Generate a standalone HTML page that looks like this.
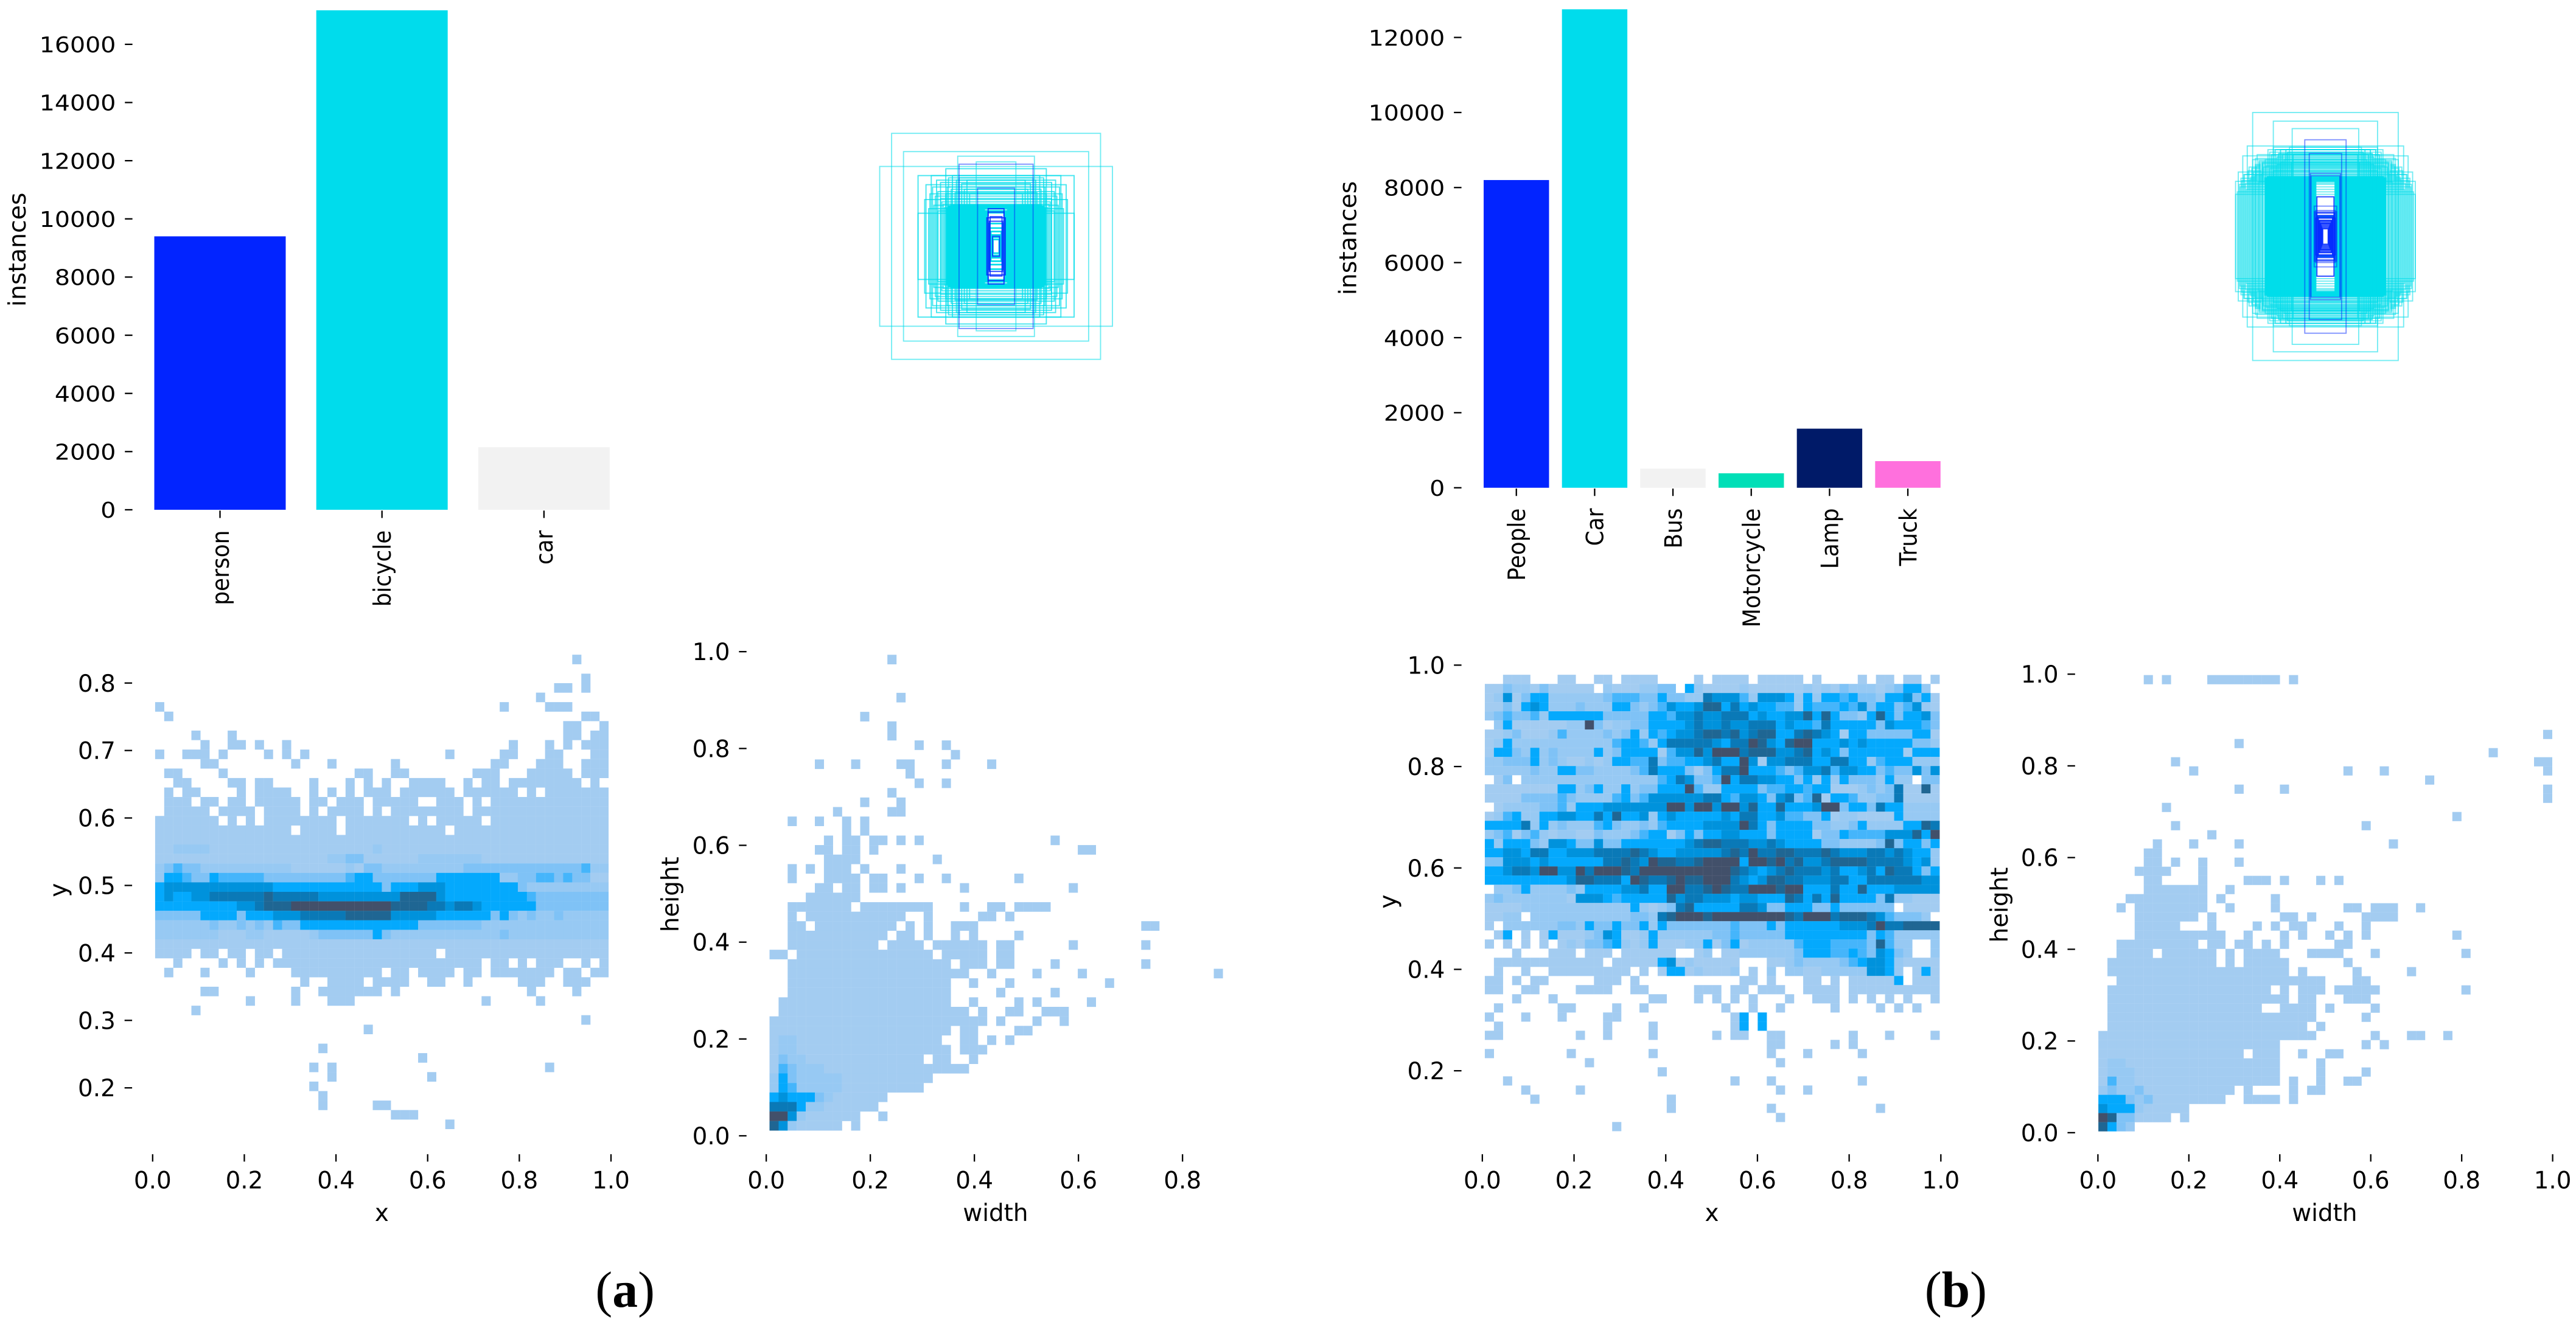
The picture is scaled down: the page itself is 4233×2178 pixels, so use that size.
<!DOCTYPE html>
<html lang="en">
<head>
<meta charset="utf-8">
<title>Dataset label statistics (a) and (b)</title>
<style>
html,body{margin:0;padding:0;background:#fff;}
svg{display:block;}
text{font-family:"DejaVu Sans","Liberation Sans",sans-serif;fill:#000;}
.cap{font-family:"Liberation Serif",serif;font-size:31px;}
</style>
</head>
<body>
<svg id="chart" xmlns="http://www.w3.org/2000/svg" width="4233" height="2178" viewBox="0 0 1568 806.8">
<rect x="0" y="0" width="1568" height="806.8" fill="#fff"></rect>
<text class="cap" x="380.5" y="795.7" text-anchor="middle">(<tspan font-weight="bold">a</tspan>)</text>
<text class="cap" x="1190.5" y="795.7" text-anchor="middle">(<tspan font-weight="bold">b</tspan>)</text>
</svg>
<script>
// ---------- bar chart data ----------
const classesA = ['person','bicycle','car'];
const instancesA = [9400,17170,2150];
const classesB = ['People','Car','Bus','Motorcycle','Lamp','Truck'];
const instancesB = [8200,12750,510,385,1575,710];
const barColors = ['#0224FF','#00DCEC','#F2F2F2','#00DFB7','#001A68','#FF70DD'];
const barTicksA = [0,2000,4000,6000,8000,10000,12000,14000,16000];
const barTicksB = [0,2000,4000,6000,8000,10000,12000];

// ---------- box-size overlay data (fraction of image) ----------
const boxCyanWidthsA = [.79,.70,.29,.88,.15,.38,.59,.49,.53,.44,.54,.59,.40,.45,.42,.36,.33,.30,.48,.50,.46,.42,.38,.37,.34,.31,.28,.26,.24,.22,.20,.51,.47,.44,.41,.39,
.37,.36,.35,.34,.33,.32,.31,.30,.29,.28,.27,.26,.25,.24,.23,.22,.21,.20,.19,.18,.17,.16,.15,.14,.13,.12,.11,.10,.09,.08,.07,.055,.05,.04,.035,.03,.024];
const boxCyanHeightsA = [.99,.83,.79,.70,.74,.68,.62,.62,.54,.48,.41,.29,.37,.58,.56,.60,.62,.58,.52,.46,.44,.42,.46,.52,.50,.47,.60,.55,.50,.58,.46,.33,.36,.31,.39,.34,
.33,.35,.34,.36,.33,.35,.34,.36,.35,.33,.36,.34,.35,.33,.36,.34,.35,.36,.33,.35,.34,.36,.35,.33,.34,.36,.35,.34,.33,.31,.30,.20,.16,.13,.10,.08,.06];
const boxBlueWidthsA = [.28,.14,.06,.07,.05,.026,.045,.06];
const boxBlueHeightsA = [.72,.51,.33,.25,.22,.088,.26,.30];
const boxCoreStartA = 36;
const boxCyanWidthsB = [.81,.58,.37,.87,.92,.97,1,1,.81,.67,.90,.85,.83,.78,.74,.72,.70,.94,.96,.88,.76,.80,.93,.91,.89,.86,.84,.82,.79,.77,.75,.73,.71,.69,.95,.98,
.64,.62,.60,.58,.56,.54,.52,.50,.48,.46,.44,.42,.40,.38,.36,.78,.74,.70,.66,.62,.58,.54,.50,
.67,.656,.642,.628,.614,.60,.586,.572,.558,.544,.53,.516,.502,.488,.474,.46,.446,.432,.418,.404,.39,.376,.362,.348,.334,.32,.306,.292,.278,.264,.25,.236,.222,.208,.194,.18,.166,.152,.138,.124,.11,.33];
const boxCyanHeightsB = [1,.93,.87,.73,.65,.52,.445,.34,.62,.62,.50,.56,.48,.58,.60,.54,.60,.47,.42,.38,.66,.52,.45,.50,.43,.53,.46,.55,.49,.57,.44,.59,.51,.56,.40,.36,
.70,.68,.66,.72,.70,.64,.67,.70,.66,.62,.70,.68,.72,.60,.66,.63,.61,.59,.57,.55,.53,.58,.60,
.47,.46,.48,.47,.45,.48,.47,.46,.48,.47,.45,.48,.46,.47,.48,.45,.47,.46,.48,.47,.45,.46,.48,.47,.46,.47,.48,.45,.47,.46,.48,.47,.45,.46,.47,.48,.46,.47,.45,.48,.46,.16];
const boxBlueWidthsB = [.23,.18,.167,.16,.125,.125,.115,.11,.11,.105,.10,.095,.09,.08,.08,.075,.07,.065,.06,.055,.05,.045,.04,.035,.03];
const boxBlueHeightsB = [.78,.67,.51,.49,.245,.20,.19,.21,.147,.15,.19,.32,.17,.16,.15,.13,.12,.13,.105,.11,.10,.09,.08,.07,.062];
const boxCoreStartB = 59;

// ---------- heatmap tick labels ----------
const ticksXYAx = [0,.2,.4,.6,.8,1];
const ticksXYAy = [.2,.3,.4,.5,.6,.7,.8];
const ticksWHAx = [0,.2,.4,.6,.8];
const ticksWHAy = [0,.2,.4,.6,.8,1];
const ticksXYBx = [0,.2,.4,.6,.8,1];
const ticksXYBy = [.2,.4,.6,.8,1];
const ticksWHBx = [0,.2,.4,.6,.8,1];
const ticksWHBy = [0,.2,.4,.6,.8,1];
const toneColors = ['#fff','#a3ccf1','#97c9f3','#7fc2f6','#45b5fb','#04a9fd','#0092dc','#0a79b7','#1f6693','#42506a'];

// ---------- heatmap counts: bins are 50x50, levels 1..9 ----------
// runs: [row, from, to, from, to, ...] at level 1.  tones: [row, startCol, level, level, ...]
const xyRunsA = [[0,46,46],[2,47,47],[3,44,45,47,47],[4,42,42],[5,0,0,38,38,43,45],[6,1,1,47,48],[7,45,46,49,49],[8,4,4,8,8,45,46,48,49],
[9,5,5,8,9,11,11,14,14,39,39,43,43,45,45,47,49],[10,0,0,3,5,7,7,12,12,14,14,16,16,32,32,38,39,43,44,48,49],
[11,5,6,15,15,19,19,26,26,37,38,42,44,47,49],[12,1,2,7,7,22,23,26,27,35,37,41,45,47,49],
[13,2,3,8,9,11,12,17,17,21,21,23,23,25,25,28,31,34,34,36,37,39,46,48,48],
[14,1,1,3,4,9,9,11,14,17,17,19,19,21,21,23,25,27,32,34,39,41,41,43,49],
[15,1,3,5,6,8,9,11,15,17,18,20,22,24,28,31,33,35,35,37,49],
[16,1,5,7,10,12,15,17,17,19,22,24,24,26,33,35,49],
[17,0,6,8,8,10,10,12,19,21,27,29,29,31,35,37,49],
[18,0,14,16,19,21,31,33,49],[19,0,49],[30,0,49],
[31,0,3,5,6,8,9,11,12,14,30,32,49],
[32,2,2,7,7,9,9,11,11,13,35,37,38,40,40,42,44,47,47,49,49],
[33,1,1,5,5,10,10,15,24,26,27,29,32,34,35,37,43,45,46,48,49],
[34,16,16,19,22,24,27,30,31,34,34,40,42,45,47],
[35,5,6,15,15,18,24,26,26,41,41,46,46],
[36,10,10,15,15,19,21,36,36,42,42],
[37,4,4],[38,47,47],[39,23,23],[41,18,18],[42,29,29],[43,17,17,19,19,43,43],[44,19,19,30,30],[45,17,17],[46,18,18],[47,18,18,24,25],[48,26,28],[49,32,32]];
const xyTonesA = [
[20,0,1,1,2,2,2,2,1,1,1,1,1,1,1,1,1,1,1,1,1,1,1,1,1,1,2,1,1,1,1,1,1,1,1,1,1,1,1,1,1,1,1,1,1,1,1,1,1,1,1,1],
[21,0,1,1,1,1,1,1,1,1,1,1,1,1,1,1,1,1,1,1,1,2,2,3,3,1,1,1,1,1,1,2,2,2,2,2,2,2,1,1,1,1,1,1,1,1,1,1,1,1,1,1],
[22,0,2,3,4,3,3,2,2,2,2,2,2,2,2,2,2,1,1,1,1,1,1,2,1,3,3,2,2,2,2,2,2,2,2,2,3,3,3,3,3,3,3,3,3,3,3,3,3,4,2,2],
[23,0,2,5,5,4,3,3,5,4,4,4,4,4,3,3,3,3,3,3,3,3,3,4,5,5,3,3,3,3,3,3,3,5,5,5,5,5,5,5,2,2,3,3,4,4,3,4,3,3,1,1],
[24,0,5,6,6,6,6,6,6,6,6,6,6,6,6,5,5,5,5,5,5,5,5,5,5,5,5,3,5,5,5,6,6,6,5,5,5,5,5,5,5,5,3,2,2,2,2,2,2,2,2,2],
[25,0,5,6,5,5,6,6,7,7,7,7,7,7,8,7,7,7,7,7,6,6,6,6,6,6,6,6,6,8,8,8,8,6,5,5,5,5,5,5,5,5,5,4,3,3,3,3,3,3,3,3],
[26,0,5,5,5,5,5,5,5,5,5,6,6,7,8,8,8,9,9,9,9,9,9,9,9,9,9,9,8,8,8,8,7,7,6,7,7,6,5,5,5,5,5,5,3,3,3,3,3,3,3,3],
[27,0,3,3,3,3,3,5,5,5,5,3,5,5,5,6,6,6,7,7,7,7,7,8,8,8,8,8,6,6,6,6,6,5,5,5,5,5,5,3,5,3,2,3,2,2,3,2,2,2,2,2],
[28,0,2,2,2,2,2,2,3,2,2,3,2,3,2,4,3,3,5,5,5,5,5,5,5,5,5,5,5,5,5,3,3,3,3,3,3,3,2,2,2,2,2,2,2,2,2,2,2,2,2,2],
[29,0,2,2,2,2,2,2,2,1,1,1,2,2,1,1,1,1,1,2,3,3,3,3,3,3,5,3,2,2,2,2,2,2,2,2,2,2,2,2,3,2,2,2,2,2,2,2,2,2,2,2]];

const whRunsA = [[0,13,13],[4,14,14],[6,10,10],[7,13,13],[8,13,13],[9,16,16,19,19],[10,20,20],[11,5,5,9,9,14,15,19,19,24,24],[12,15,15],[13,16,16,19,19],[14,13,13],[15,10,10,14,14],[16,7,7,13,14],[17,2,2,5,5,8,8,10,10],[18,8,8,10,10],
[19,6,6,8,9,11,12,14,14,16,16,31,31],[20,5,6,8,9,11,11,34,35],[21,6,9,18,18],[22,2,2,4,4,6,8,10,10,14,14],[23,2,2,6,9,11,12,16,16,19,19,27,27],[24,5,6,8,9,11,12,14,14,21,21,33,33],[25,4,9],
[26,2,8,10,17,21,21,24,25,27,30],[27,2,2,4,14,17,17,23,24,26,26],[28,2,3,5,13,15,15,17,17,20,22,41,42],[29,2,12,14,15,17,17,20,20,22,22,27,27],[30,2,11,13,16,18,23,25,26,33,33,41,41],
[31,0,1,3,17,19,23,25,26],[32,2,19,21,23,25,26,31,31,41,41],[33,2,21,24,24,29,29,34,34,49,49],[34,2,19,22,22,26,26,37,37],[35,2,19,25,25,31,31],[36,1,19,22,22,27,27,29,29,35,35],
[37,1,21,23,23,26,27,30,32],[38,0,23,25,25,29,29,32,32],[39,0,19,21,22,27,28],[40,0,18,21,22,24,24,26,26],[41,0,19,21,23],[42,0,16,18,19,22,22],[43,0,21],[44,0,17],[45,0,16],[46,0,12],[47,0,11],[48,0,9,12,12],[49,0,7,9,9]];
const whTonesA = [[49,0,8,6,2],[48,0,9,9,6,2],[47,0,7,7,7,5,2,2],[46,0,5,6,5,5,5,3,2],[45,0,2,5,4,2,2,2,2,2],[44,0,2,5,3,2,2,2,2,2],[43,0,1,4,3,2,2,2],[42,0,1,3,2,2,1],[41,0,1,2,2,1],[40,1,2,2]];

const xyRunsB = [[0,2,4,8,9,12,13,15,18,23,23,25,28,30,34,36,36,41,41,43,44,46,47,49,49],
[33,0,1,3,3,5,6,12,14,16,16,28,29,31,31,35,36,38,38,40,45,47,49],
[34,0,1,4,5,10,13,16,17,23,25,27,28,30,32,35,38,40,49],
[35,3,3,7,7,18,19,23,23,25,25,27,27,29,29,33,33,36,38,40,40,42,42,44,44,46,46,49,49],
[36,1,1,8,9,14,14,17,17,26,26,29,29,32,32,38,38,43,43,45,45,47,47],
[37,0,0,4,4,8,8,13,14,27,28,30,30],[38,1,1,13,13,18,18,27,28,30,30],
[39,0,1,10,10,13,13,18,18,25,25,27,28,31,32,40,40,44,44,49,49],[40,31,32,38,38,40,40],
[41,0,0,9,9,18,18,31,31,35,35,41,41],[42,11,11,32,32],[43,19,19],[44,2,2,27,27,31,31,41,41],[45,4,4,10,10,32,32,35,35],[46,5,5,20,20],[47,20,20,31,31,43,43],[48,32,32],[49,14,14]];
const xyTonesB = [
[1,0,1,1,3,2,2,1,3,1,1,1,1,1,0,2,1,1,1,2,2,3,3,0,5,2,1,1,1,1,2,1,1,1,1,1,1,2,1,2,1,3,2,2,2,1,2,3,5,5,2,0],
[2,0,1,2,6,1,3,5,5,2,2,2,2,2,2,3,4,4,4,3,3,5,3,3,2,2,7,6,6,6,4,2,6,6,6,5,2,5,2,5,5,4,5,3,3,2,5,5,6,3,5,1],
[3,0,1,1,3,1,5,6,5,2,2,2,3,2,2,2,5,5,3,2,3,4,6,5,5,6,8,8,5,7,5,6,5,5,4,4,2,5,4,4,4,5,4,6,3,5,5,3,4,6,2,1],
[4,0,2,3,4,3,3,4,2,5,5,5,5,5,5,3,3,3,3,3,5,5,4,6,6,7,6,6,7,7,7,5,6,5,5,6,6,8,5,8,5,3,3,2,5,8,5,3,5,5,6,3],
[5,0,0,2,5,1,1,1,1,1,1,2,2,9,3,1,2,2,3,3,5,5,5,5,6,7,6,6,7,6,6,7,7,7,5,6,5,5,4,7,5,5,5,5,5,3,6,5,5,5,4,3],
[6,0,1,1,2,3,1,1,1,2,4,2,2,2,2,3,2,3,5,2,5,4,5,6,6,7,8,8,7,8,6,7,8,8,5,5,7,8,7,6,5,1,5,5,3,3,3,3,3,5,5,1],
[7,0,1,2,5,2,2,2,2,2,2,2,2,2,2,2,4,5,5,4,2,5,7,7,7,7,7,6,5,7,7,9,8,6,5,8,9,9,5,5,5,6,5,6,5,5,5,5,5,3,3,2],
[8,0,1,5,5,3,2,5,2,3,2,2,2,2,5,2,3,5,5,5,5,1,4,6,6,8,6,9,9,9,7,8,8,8,6,6,7,8,5,6,5,3,5,5,5,5,5,5,1,5,5,5],
[9,0,2,2,3,3,3,5,2,3,2,1,1,2,1,2,5,5,4,4,7,3,4,4,5,5,6,7,5,5,9,6,1,6,6,7,7,7,5,5,7,7,5,5,2,4,5,5,5,2,2,2],
[10,0,2,2,2,2,2,3,2,2,5,5,3,3,2,2,2,2,3,4,7,5,5,5,3,1,3,5,7,7,9,5,5,5,4,3,4,6,6,7,4,6,6,5,5,3,4,3,3,6,3,6],
[11,0,0,1,3,0,2,2,2,2,2,2,2,2,2,2,2,2,2,2,2,4,5,7,6,3,3,4,9,5,7,7,6,6,5,5,3,5,2,5,2,5,3,3,3,2,5,2,2,0,3,3],
[12,0,1,1,1,1,1,1,1,1,5,5,2,3,5,2,2,5,2,3,3,5,5,5,9,4,2,2,5,5,5,5,3,4,4,5,5,4,5,5,1,1,1,2,3,2,3,7,1,1,8,1],
[13,0,1,1,1,1,3,3,3,3,4,3,2,2,2,2,4,5,3,4,6,6,6,6,6,6,7,7,5,4,6,6,5,3,6,7,3,4,8,1,5,5,4,2,2,3,3,7,1,1,1,1],
[14,0,0,1,2,2,2,2,3,3,4,2,5,5,5,6,6,6,6,6,6,6,9,9,6,9,9,6,9,9,6,8,5,5,8,5,5,5,6,9,9,3,5,5,3,7,5,5,2,2,2,2],
[15,0,1,2,4,5,2,2,5,5,6,6,5,5,7,5,8,5,5,6,2,5,6,5,5,5,5,5,6,5,7,7,5,5,6,4,4,3,3,5,1,2,2,1,1,1,1,5,2,2,2,2],
[16,0,5,5,5,5,7,2,5,2,3,2,2,2,4,5,3,2,2,3,2,4,5,5,5,5,6,6,6,6,9,7,5,3,5,5,5,5,3,3,2,2,3,5,2,2,2,2,5,5,8,7],
[17,0,2,3,4,1,3,4,2,1,2,2,1,1,3,2,2,2,3,4,5,5,1,3,5,3,5,5,6,6,5,5,5,3,5,5,5,5,1,3,3,5,4,4,4,4,6,6,6,8,5,9],
[18,0,5,2,5,5,5,3,2,6,6,5,3,3,6,3,3,5,5,5,5,5,5,5,6,7,8,8,7,7,7,6,6,7,6,5,5,5,5,3,3,2,2,2,2,3,8,3,5,5,3,5],
[19,0,5,5,6,6,5,7,7,5,5,6,6,6,7,7,7,7,8,7,6,5,5,6,6,6,6,6,7,8,7,9,7,7,8,8,7,7,7,8,7,6,6,6,7,7,6,7,6,5,5,2],
[20,0,3,3,6,6,6,5,6,5,5,5,5,5,5,7,7,8,7,6,9,8,8,7,7,8,9,9,9,9,5,9,9,8,9,7,8,6,6,7,8,8,8,8,7,7,7,7,6,5,6,2],
[21,0,5,5,6,7,7,6,9,9,6,6,9,7,9,9,9,8,7,9,9,9,9,9,9,9,9,9,9,8,7,6,5,6,7,8,7,7,7,6,7,5,5,6,7,5,8,7,7,5,3,5],
[22,0,5,5,5,5,5,5,5,5,5,6,8,8,7,7,7,5,9,8,7,7,8,9,8,8,9,9,9,7,6,5,6,8,8,7,7,6,6,6,7,7,5,5,7,7,7,7,7,7,6,6],
[23,0,0,2,2,3,5,2,2,2,2,3,2,5,5,5,5,6,6,7,5,5,9,9,7,7,8,9,8,7,7,9,9,9,8,9,9,5,5,5,7,5,5,8,5,5,5,6,6,6,6,6],
[24,0,2,3,2,2,2,2,2,2,2,1,6,6,6,5,4,5,5,5,5,5,8,6,7,7,6,6,6,5,6,6,5,5,5,8,7,5,7,5,8,5,5,5,5,3,7,2,2,1,1,1],
[25,0,1,1,1,1,2,2,2,2,2,2,2,2,2,2,2,2,5,2,1,2,3,7,8,5,5,5,5,5,7,7,6,3,3,5,5,5,3,3,5,3,3,3,3,3,3,0,1,1,1,1],
[26,0,1,1,2,2,0,2,2,2,2,2,2,2,2,2,2,2,3,3,2,7,8,9,9,9,8,9,9,9,9,9,9,9,9,8,7,9,9,9,7,8,8,8,7,6,4,3,3,3,2,0],
[27,0,1,0,2,2,2,2,2,2,3,3,2,5,3,3,5,3,3,5,2,5,3,3,3,3,3,3,3,4,3,3,3,5,3,5,5,5,5,5,5,6,6,6,7,9,7,7,8,8,8,8],
[28,0,0,1,5,0,1,0,1,5,1,1,1,2,3,6,5,1,1,2,5,2,2,2,2,2,2,3,3,4,3,3,3,3,3,5,5,5,5,5,5,5,5,5,3,5,4,2,2,2,2,2],
[29,0,1,0,1,0,1,0,1,0,1,2,1,3,3,4,5,2,1,2,5,1,1,1,2,2,5,1,3,5,1,2,2,2,2,2,4,5,5,5,4,4,4,4,3,8,4,2,2,0,0,2],
[30,0,0,0,0,1,0,0,0,1,1,1,0,1,1,1,0,1,1,1,1,1,1,0,0,1,2,0,1,1,2,2,2,2,2,2,3,5,5,5,4,4,5,4,3,6,5,3,2,0,0,2],
[31,0,0,1,1,1,1,1,1,1,1,1,1,1,1,0,1,1,1,1,1,5,6,1,2,1,1,1,1,1,0,0,0,1,1,2,3,2,2,2,2,3,4,5,6,6,5,2,1,1,1,1],
[32,0,0,1,0,0,1,0,0,1,1,1,1,1,1,1,1,1,0,1,0,1,5,5,1,2,1,1,1,2,0,1,0,2,0,2,2,1,1,2,2,2,2,2,6,6,5,2,0,1,5,1],
[33,45,5],[37,28,5],[37,30,5],[38,28,5],[38,30,5]];

const whRunsB = [[0,5,5,7,7,12,19,21,21],[6,49,49],[7,15,15],[8,43,43],[9,8,8,48,49],[10,10,10,27,27,31,31,49,49],[11,36,36],[12,15,15,20,20,49,49],[13,49,49],[14,7,7],[15,39,39],[16,8,8,29,29],[17,12,12],[18,6,6,10,10,15,15,32,32],[19,5,6],[20,5,6,8,8,11,11,15,15],[21,4,7,11,11],
[22,5,6,11,11,16,18,20,20,24,24,26,26],[23,5,11,14,14],[24,3,11,13,13,19,19],[25,2,2,4,11,14,14,19,19,27,28,30,32,35,35],[26,4,10,12,12,20,21,23,23,29,32],[27,4,8,12,12,17,17,19,19,21,22,26,26,29,29],[28,4,13,16,16,20,20,22,22,25,25,27,27,29,29,39,39],
[29,2,10,12,13,15,16,18,18,20,20,26,27],[30,2,5,7,12,14,14,16,19,23,26,30,30,40,40],[31,1,12,14,14,16,20,27,27],[32,1,20,22,22,28,28,34,34],[33,2,24,28,29],[34,1,18,20,20,22,24,26,30,40,40],[35,1,20,22,23,27,29],[36,1,17,20,23,25,25,30,30],[37,1,23,29,29],[38,1,22,24,24],
[39,0,23,30,30,34,35,38,38],[40,0,19,29,29,31,31],[41,0,15,17,19,22,22,25,26],[42,0,19,24,24],[43,0,19,24,24,29,29],[44,0,19,21,21,24,24,27,28],[45,0,14,16,16,21,21,23,24],[46,0,13,16,19,21,21],[47,0,9],[48,0,7,9,9],[49,0,3]];
const whTonesB = [[49,0,8,5,3,2],[48,0,9,8,3,3,1],[47,0,6,5,5,5,2],[46,0,5,5,5,3,2,3],[45,0,2,3,2,2,3],[44,0,1,4,2,2],[43,0,1,2,2,2],[42,0,1,2,2]];

// ---------- helpers ----------
const NS = 'http://www.w3.org/2000/svg';
const root = document.getElementById('chart');
const linear = (d0,d1,r0,r1) => v => r0 + (v-d0)/(d1-d0)*(r1-r0);

function group(name){
  const el = document.createElementNS(NS,'g');
  
  
  root.appendChild(el);
  return el;
}
function label(parent,name,str,x,y,anchor,size,sx,rotated){
  const el = document.createElementNS(NS,'text');
  
  
  el.setAttribute('text-anchor',anchor);
  el.setAttribute('font-size',size);
  el.setAttribute('transform','translate('+x+' '+y+') scale('+sx+' 1)'+(rotated?' rotate(-90)':''));
  el.textContent = str;
  parent.appendChild(el);
}
function tick(parent,name,x1,y1,x2,y2){
  const el = document.createElementNS(NS,'line');
  
  
  el.setAttribute('x1',x1);el.setAttribute('y1',y1);el.setAttribute('x2',x2);el.setAttribute('y2',y2);
  el.setAttribute('stroke','#000');el.setAttribute('stroke-width','.85');
  parent.appendChild(el);
}
function drawBars(p){
  const g = group(p.name);
  const y = linear(0,p.refValue,p.zeroY,p.refY);
  const band = i => p.firstCenter + i*p.step;
  p.ticks.forEach(t=>{
    tick(g,'y-tick-'+t,p.tickX,y(t),p.tickX+4.6,y(t));
    label(g,'y-tick-label-'+t,String(t),p.tickX-5.5,y(t)+4.9,'end',13.3,1.1,false);
  });
  p.categories.forEach((c,i)=>{
    const el = document.createElementNS(NS,'rect');
    
    
    el.setAttribute('x',band(i)-p.barW/2);
    el.setAttribute('width',p.barW);
    el.setAttribute('y',y(p.values[i]));
    el.setAttribute('height',p.zeroY-y(p.values[i]));
    el.setAttribute('fill',barColors[i]);
    g.appendChild(el);
    tick(g,'x-tick-'+c.toLowerCase(),band(i),p.zeroY+.5,band(i),p.zeroY+5);
    label(g,'x-tick-label-'+c.toLowerCase(),c,band(i)+5.3,p.zeroY+12.5,'end',13.3,1.1,true);
  });
  label(g,'y-axis-title','instances',p.titleX,p.titleY,'middle',14.6,1,true);
}
function drawBoxes(name,cx,cy,ux,uy,cyanW,cyanH,blueW,blueH,coreStart){
  const g = group(name);
  const add = (w,h,color,op,sw,kind) => {
    const el = document.createElementNS(NS,'rect');
    
    
    el.setAttribute('x',cx-w*ux/2);
    el.setAttribute('y',cy-h*uy/2);
    el.setAttribute('width',w*ux);
    el.setAttribute('height',h*uy);
    el.setAttribute('fill','none');
    el.setAttribute('stroke',color);
    el.setAttribute('stroke-opacity',op);
    el.setAttribute('stroke-width',sw);
    g.appendChild(el);
  };
  cyanW.forEach((w,i)=>{
    const core = i>=coreStart;
    add(w,cyanH[i],'#00DDEA',core?'1':(w>.6||cyanH[i]>.7?'.55':'.72'),core?'1':'.7','box-outline-cyan');
  });
  blueW.forEach((w,i)=>add(w,blueH[i],'#042AFF',w>.1?'.5':'.85','.7','box-outline-blue'));
}
function drawHeat(p){
  const g = group(p.name);
  const x = linear(p.xRef[0],p.xRef[1],p.xPx[0],p.xPx[1]);
  const y = linear(p.yRef[0],p.yRef[1],p.yPx[0],p.yPx[1]);
  const grid = [];
  for(let r=0;r<50;r++){grid.push(new Array(50).fill(0));}
  p.runs.forEach(run=>{
    for(let k=1;k<run.length;k+=2){
      for(let c=run[k];c<=run[k+1];c++){grid[run[0]][c]=1;}
    }
  });
  p.tones.forEach(t=>{
    for(let k=2;k<t.length;k++){grid[t[0]][t[1]+k-2]=t[k];}
  });
  const dx=(p.xBins[1]-p.xBins[0])/50, dy=(p.yBins[1]-p.yBins[0])/50;
  grid.forEach((row,r)=>row.forEach((v,c)=>{
    if(!v){return;}
    const el = document.createElementNS(NS,'rect');
    
    
    const x0=x(p.xBins[0]+c*dx), x1=x(p.xBins[0]+(c+1)*dx);
    const y0=y(p.yBins[1]-r*dy), y1=y(p.yBins[1]-(r+1)*dy);
    el.setAttribute('x',x0);el.setAttribute('y',y0);
    el.setAttribute('width',x1-x0+.05);el.setAttribute('height',y1-y0+.05);
    el.setAttribute('fill',toneColors[v]);
    g.appendChild(el);
  }));
  p.xTicks.forEach(t=>{
    tick(g,'x-tick-'+t,x(t),702.8,x(t),707.3);
    label(g,'x-tick-label-'+t,t.toFixed(1),x(t),723.6,'middle',14.4,1,false);
  });
  p.yTicks.forEach(t=>{
    tick(g,'y-tick-'+t,p.tickX,y(t),p.tickX+4.6,y(t));
    label(g,'y-tick-label-'+t,t.toFixed(1),p.tickX-5.5,y(t)+5.2,'end',14.4,1,false);
  });
  label(g,'x-axis-title',p.xTitle,p.xTitleX,743.4,'middle',14.4,1,false);
  label(g,'y-axis-title',p.yTitle,p.yTitleX,p.yTitleY,'middle',14.4,1,true);
}

// ---------- panels ----------
drawBars({name:'instances-bars-a',categories:classesA,values:instancesA,ticks:barTicksA,refValue:16000,zeroY:310.4,refY:27,firstCenter:133.9,step:98.6,barW:80,tickX:76,titleX:15.5,titleY:152});
drawBars({name:'instances-bars-b',categories:classesB,values:instancesB,ticks:barTicksB,refValue:12000,zeroY:297,refY:22.8,firstCenter:923,step:47.66,barW:39.8,tickX:885,titleX:825.5,titleY:145});
drawBoxes('box-overlay-a',606.3,150,161,139,boxCyanWidthsA,boxCyanHeightsA,boxBlueWidthsA,boxBlueHeightsA,boxCoreStartA);
drawBoxes('box-overlay-b',1415.5,144,109.4,151,boxCyanWidthsB,boxCyanHeightsB,boxBlueWidthsB,boxBlueHeightsB,boxCoreStartB);
drawHeat({name:'xy-heatmap-a',runs:xyRunsA,tones:xyTonesA,xRef:[0,1],xPx:[92.9,371.9],yRef:[.2,.8],yPx:[662.4,415.9],xBins:[.0054,.9946],yBins:[.139,.842],xTicks:ticksXYAx,yTicks:ticksXYAy,tickX:75.8,xTitle:'x',xTitleX:232.4,yTitle:'y',yTitleX:40.5,yTitleY:542});
drawHeat({name:'wh-heatmap-a',runs:whRunsA,tones:whTonesA,xRef:[0,.8],xPx:[466.4,719.8],yRef:[0,1],yPx:[691.6,396.8],xBins:[.0063,.8775],yBins:[.0109,.9936],xTicks:ticksWHAx,yTicks:ticksWHAy,tickX:449.8,xTitle:'width',xTitleX:606,yTitle:'height',yTitleX:413,yTitleY:544.6});
drawHeat({name:'xy-heatmap-b',runs:xyRunsB,tones:xyTonesB,xRef:[0,1],xPx:[902.3,1181.4],yRef:[.2,1],yPx:[652,405],xBins:[.0054,.9973],yBins:[.081,.981],xTicks:ticksXYBx,yTicks:ticksXYBy,tickX:885,xTitle:'x',xTitleX:1042,yTitle:'y',yTitleX:850,yTitleY:549});
drawHeat({name:'wh-heatmap-b',runs:whRunsB,tones:whTonesB,xRef:[0,1],xPx:[1277,1553.8],yRef:[0,1],yPx:[689.7,410.5],xBins:[.001,.999],yBins:[.003,.998],xTicks:ticksWHBx,yTicks:ticksWHBy,tickX:1258.5,xTitle:'width',xTitleX:1415,yTitle:'height',yTitleX:1222,yTitleY:551});
</script>
</body>
</html>
